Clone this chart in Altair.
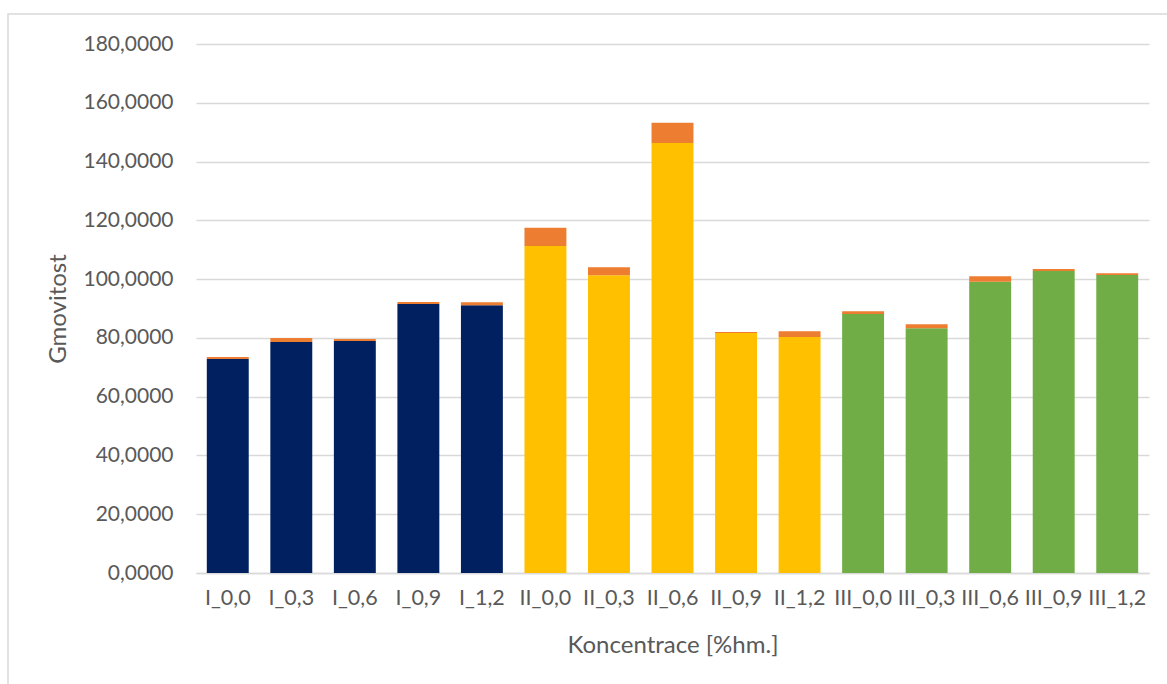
import altair as alt
import pandas as pd

categories = ["I_0,0", "I_0,3", "I_0,6", "I_0,9", "I_1,2",
              "II_0,0", "II_0,3", "II_0,6", "II_0,9", "II_1,2",
              "III_0,0", "III_0,3", "III_0,6", "III_0,9", "III_1,2"]
groups = ["I"] * 5 + ["II"] * 5 + ["III"] * 5
base_values = [72.8, 78.6, 78.9, 91.5, 91.1,
               111.3, 101.3, 146.3, 81.7, 80.3,
               88.1, 83.3, 99.1, 102.8, 101.4]
top_values = [0.7, 1.4, 0.7, 0.7, 1.0,
              6.2, 2.7, 6.9, 0.3, 2.0,
              1.0, 1.3, 1.9, 0.6, 0.6]
y_ticks = [0, 20, 40, 60, 80, 100, 120, 140, 160, 180]

color_domain = ["I", "II", "III", "rozdíl"]
color_range = ["#002060", "#FFC000", "#70AD47", "#ED7D31"]

rows = []
for c, g, b, t in zip(categories, groups, base_values, top_values):
    rows.append({"kat": c, "serie": g, "hodnota": b, "poradi": 0})
    rows.append({"kat": c, "serie": "rozdíl", "hodnota": t, "poradi": 1})
df = pd.DataFrame(rows)

FONT = "Lato"
GREY = "#595959"

bars = alt.Chart(df).mark_bar().encode(
    x=alt.X("kat:N", sort=categories,
            scale=alt.Scale(paddingInner=0.34, paddingOuter=0.17),
            axis=alt.Axis(title="Koncentrace [%hm.]", labelAngle=0,
                          labelOverlap=False, labelPadding=14, ticks=False,
                          domainColor="#d9d9d9", domainWidth=1.5,
                          labelFont=FONT, labelFontSize=21.5, labelColor=GREY,
                          titleFont=FONT, titleFontSize=24, titleColor=GREY,
                          titleFontWeight="normal", titleY=72,
                          titleBaseline="middle")),
    y=alt.Y("hodnota:Q", stack="zero",
            scale=alt.Scale(domain=[0, 180], nice=False),
            axis=alt.Axis(title="Gmovitost", values=y_ticks, domain=False,
                          ticks=False, labelPadding=23,
                          labelExpr="replace(format(datum.value, '.4f'), '.', ',')",
                          gridColor="#d9d9d9", gridWidth=1.5,
                          labelFont=FONT, labelFontSize=21, labelColor=GREY,
                          titleFont=FONT, titleFontSize=24, titleColor=GREY,
                          titleFontWeight="normal", titleX=-138, titleY=264.5,
                          titleAngle=-90, titleAlign="center",
                          titleBaseline="middle")),
    color=alt.Color("serie:N", scale=alt.Scale(domain=color_domain, range=color_range),
                    legend=None),
    order=alt.Order("poradi:Q", sort="ascending"),
)

border = alt.Chart(alt.Data(values=[{"a": 1}])).mark_rect(
    fill=None, stroke="#d9d9d9", strokeWidth=1.5
).encode(
    x=alt.value(-188), x2=alt.value(1100),
    y=alt.value(-30), y2=alt.value(800),
)

chart = alt.layer(bars, border).properties(
    width=953, height=529,
    autosize=alt.AutoSizeParams(type="none"),
    padding={"left": 196, "top": 44, "right": 18, "bottom": 111},
    background="white",
).configure_view(stroke=None)

chart.save("out.html", embed_options={"renderer": "svg", "actions": False})
